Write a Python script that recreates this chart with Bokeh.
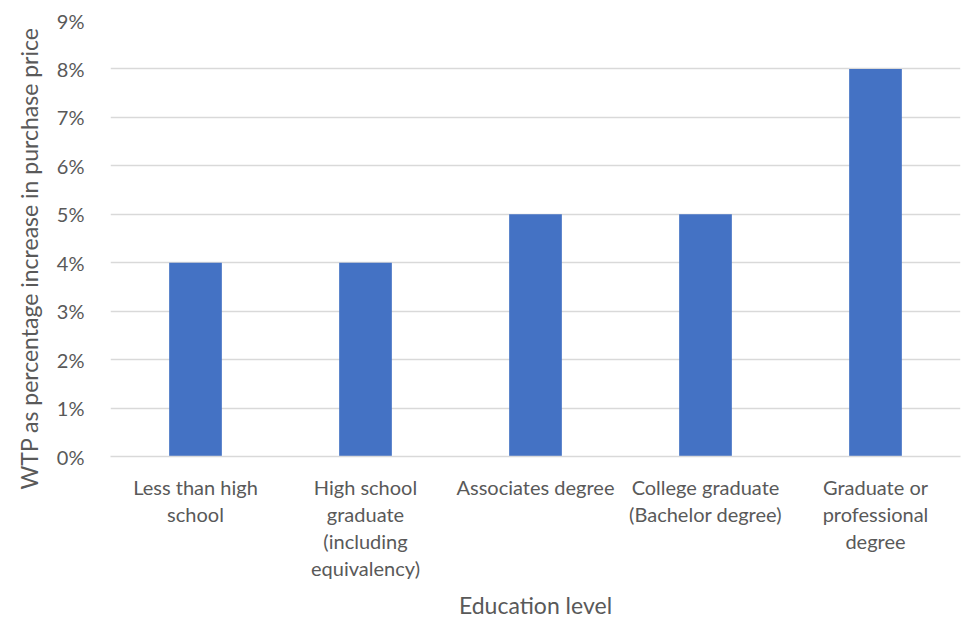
from bokeh.plotting import figure
from bokeh.models import (FixedTicker, NumeralTickFormatter, ColumnDataSource,
                          LinearAxis, Title)
from bokeh.embed import file_html
from bokeh.resources import INLINE

# Willingness to pay by education level
categories = [
    "Less than high school",
    "High school graduate (including equivalency)",
    "Associates degree",
    "College graduate (Bachelor degree)",
    "Graduate or professional degree",
]
tick_labels = [
    "Less than high\nschool",
    "High school\ngraduate\n(including\nequivalency)",
    "Associates degree",
    "College graduate\n(Bachelor degree)",
    "Graduate or\nprofessional\ndegree",
]
wtp = [0.04, 0.04, 0.05, 0.05, 0.08]
y_ticks = [0.0, 0.01, 0.02, 0.03, 0.04, 0.05, 0.06, 0.07, 0.08, 0.09]

FONT = "Lato"
TEXT = "#595959"
TICK_SIZE = "20px"
TITLE_SIZE = "23px"

# categories sit at 1..n on a numeric axis so each label line can be its own axis
xpos = list(range(1, len(categories) + 1))
source = ColumnDataSource(data=dict(x=xpos, cat=categories, val=wtp))

p = figure(
    x_range=(0.5, len(categories) + 0.5),
    y_range=(0, 0.09),
    width=961,
    height=621,
    output_backend="svg",
    toolbar_location=None,
    min_border_left=110,
    min_border_right=1,
    min_border_top=20,
    min_border_bottom=164,
)

p.vbar(x="x", top="val", width=0.31, source=source,
       fill_color="#4472C4", line_color=None)

p.outline_line_color = None
p.background_fill_color = "white"
p.border_fill_color = "white"

# grid
p.xgrid.grid_line_color = None
p.ygrid.grid_line_color = "#d9d9d9"
p.ygrid.grid_line_width = 1.3

# y axis
p.yaxis.ticker = FixedTicker(ticks=y_ticks)
p.yaxis.formatter = NumeralTickFormatter(format="0%")
p.yaxis.axis_line_color = None
p.yaxis.major_tick_line_color = None
p.yaxis.minor_tick_line_color = None
p.yaxis.major_label_text_font = FONT
p.yaxis.major_label_text_font_size = TICK_SIZE
p.yaxis.major_label_text_color = TEXT
p.yaxis.major_label_standoff = 20

# y axis title, anchored near the top of the plot area
p.add_layout(Title(text="WTP as percentage increase in purchase price",
                   align="right", offset=7, standoff=17, vertical_align="top",
                   text_font=FONT, text_font_size=TITLE_SIZE,
                   text_font_style="normal", text_color=TEXT), "left")

# x axis: one axis per text line of the wrapped category labels
split = [lab.split("\n") for lab in tick_labels]
n_lines = max(len(s) for s in split)


def line_overrides(i):
    return {x: (s[i] if i < len(s) else " ") for x, s in zip(xpos, split)}


axes = [p.xaxis[0]]
for i in range(1, n_lines):
    ax = LinearAxis()
    p.add_layout(ax, "below")
    axes.append(ax)

for i, ax in enumerate(axes):
    ax.ticker = FixedTicker(ticks=xpos)
    ax.major_label_overrides = line_overrides(i)
    ax.major_tick_line_color = None
    ax.minor_tick_line_color = None
    ax.major_label_text_font = FONT
    ax.major_label_text_font_size = TICK_SIZE
    ax.major_label_text_color = TEXT
    ax.major_label_orientation = "horizontal"
    ax.major_label_standoff = 12 if i == 0 else -6
    ax.axis_line_color = "#d9d9d9" if i == 0 else None
    ax.axis_line_width = 1.3

last = axes[-1]
last.axis_label = "Education level"
last.axis_label_text_font = FONT
last.axis_label_text_font_size = TITLE_SIZE
last.axis_label_text_font_style = "normal"
last.axis_label_text_color = TEXT
last.axis_label_standoff = 8

open("out.html", "w").write(file_html(p, INLINE))
